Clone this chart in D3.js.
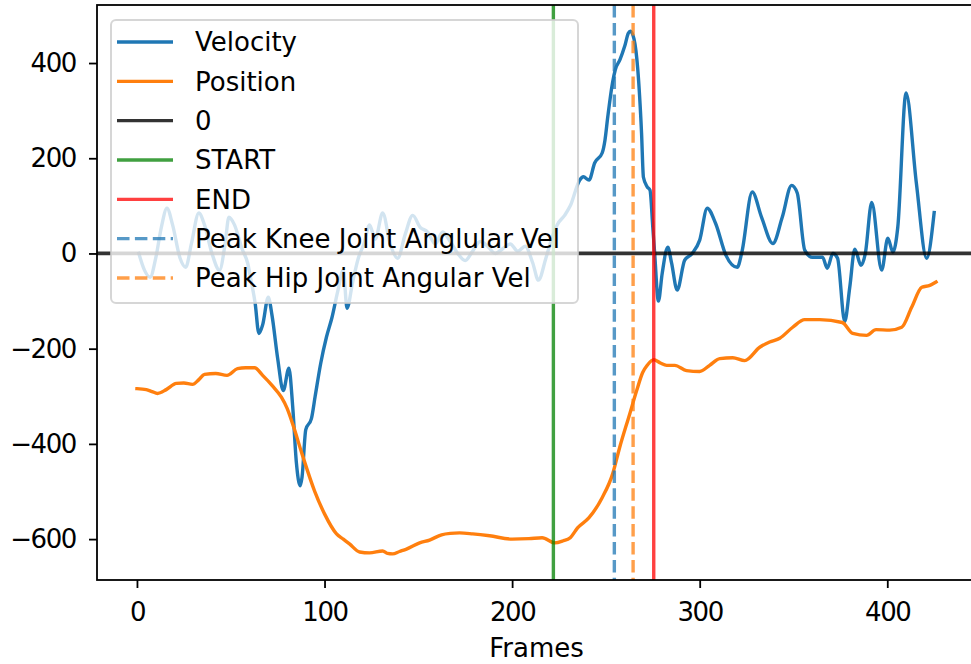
<!DOCTYPE html>
<html>
<head>
<meta charset="utf-8">
<script src="https://cdn.jsdelivr.net/npm/d3@7"></script>
<style>
  html, body { margin: 0; padding: 0; background: #fff; }
  svg { display: block; font-family: "DejaVu Sans", sans-serif; }
</style>
</head>
<body>
<svg id="chart" width="971" height="664"></svg>
<script>
// Angular velocity samples (frame, deg/s)
const velFrames = [1, 4, 7, 10, 13, 16, 19, 23, 26, 29, 33, 36, 40, 44, 47, 49, 52, 56, 59, 61, 63, 65, 67, 70, 72, 75, 78, 81, 83, 85, 87, 88, 90, 93, 95, 98, 101, 104, 107, 110, 112, 115, 118, 121, 124, 127, 131, 135, 139, 143, 147, 151, 155, 159, 163, 167, 171, 175, 179, 183, 187, 191, 195, 199, 203, 207, 211, 214, 218, 221, 224, 228, 231, 236, 238, 241, 244, 248, 249.5, 251, 253.5, 255, 257.5, 260, 262, 263, 265, 267, 269, 270, 272, 273.5, 275, 276, 278, 280, 283, 285, 288, 292, 296, 300, 304, 308.5, 314, 320, 322.5, 328, 333, 339, 344, 349, 352, 356, 360, 365.5, 368, 371, 373.5, 377.3, 380, 382.7, 386, 388.3, 391.7, 397, 400.3, 403, 405.6, 410, 415.5, 421, 425];
const velValues = [0, -35, -50, -10, 55, 95, 60, -10, -29, 20, 85, 60, 0, -35, 20, 76, 60, 10, -20, -60, -104, -168, -150, -92, -130, -220, -288, -241, -320, -440, -488, -470, -370, -347, -300, -230, -176, -134, -80, -35, -115, -60, -10, 20, 60, 30, 85, 20, -10, 40, 80, 55, 45, 20, 45, 25, 0, -15, 5, 25, 15, 0, 10, 20, 5, 15, -20, -56, -10, 30, 60, 80, 100, 154, 161, 154, 190, 211, 238, 287, 358, 386, 407, 435, 463, 467, 450, 386, 253, 160, 140, 133, 55, 0, -100, -42, 13, -20, -77, -14, 0, 28, 95, 63, -4, -29, 3, 129, 76, 21, 76, 143, 127, 7, -8, -8, -31, 0, -10, -143, -71, 9, -25, 0, 107, -35, 32, 3, 55, 337, 148, -10, 86];

// Joint position samples (frame, deg)
const posFrames = [0, 5, 8, 11, 15.6, 21, 25, 29.6, 33, 36, 42, 48, 53.6, 58, 62.7, 67, 72, 77, 80, 83, 88, 94.7, 100, 106.4, 110, 113.3, 118.7, 124, 131, 133.5, 136.3, 140, 143.7, 150.7, 156, 162.4, 167, 172, 179, 188, 200, 209, 216, 222.7, 227, 231, 235, 241, 248, 253.6, 257.3, 262.7, 266.4, 269.6, 272, 275.5, 279, 282.4, 286.7, 293, 300, 305.3, 310.7, 317.6, 324, 332, 337.3, 342.7, 349.6, 356, 364, 376, 381.6, 389, 394, 401.3, 407.7, 413, 418.4, 422.7, 426];
const posValues = [-284, -286, -290, -294, -286, -273, -272, -275, -265, -254, -252, -256, -242, -240, -240, -256, -277, -302, -325, -358, -421, -499, -547, -589, -600, -610, -627, -629, -625, -630, -631, -626, -621, -608, -602, -591, -588, -587, -589, -593, -600, -599, -597, -608, -604, -597, -576, -555, -513, -463, -408, -337, -288, -250, -235, -223, -230, -235, -235, -246, -248, -235, -221, -219, -225, -197, -186, -178, -155, -139, -139, -145, -168, -172, -160, -161, -155, -113, -71, -67, -60];

// Event markers (frame numbers)
const startFrame = 222;
const endFrame = 275.5;
const peakKneeFrame = 254.5;
const peakHipFrame = 264.5;

const xTicks = [0, 100, 200, 300, 400];
const yTicks = [-600, -400, -200, 0, 200, 400];

const legendLabels = ["Velocity", "Position", "0", "START", "END", "Peak Knee Joint Anglular Vel", "Peak Hip Joint Angular Vel"];

const C = {
  blue: "#1f77b4",
  orange: "#ff7f0e",
  black: "#000000",
  green: "#008000",
  red: "#ff0000"
};

const svg = d3.select("#chart");
const W = 971, H = 664;
const plot = { left: 97, right: 976, top: 5, bottom: 580 };
const FONT = 26;

svg.append("rect").attr("width", W).attr("height", H).attr("fill", "#fff");

// Axis limits with a 5% margin around the data
const xExt = [d3.min(velFrames.concat(posFrames)), d3.max(velFrames.concat(posFrames))];
const yExt = [d3.min(velValues.concat(posValues)), d3.max(velValues.concat(posValues))];
const xPad = (xExt[1] - xExt[0]) * 0.05;
const yPad = (yExt[1] - yExt[0]) * 0.05;

const x = d3.scaleLinear().domain([xExt[0] - xPad, xExt[1] + xPad]).range([plot.left, plot.right]);
const y = d3.scaleLinear().domain([yExt[0] - yPad, yExt[1] + yPad]).range([plot.bottom, plot.top]);

const clipId = "plot-clip";
svg.append("clipPath").attr("id", clipId)
  .append("rect")
  .attr("x", plot.left).attr("y", plot.top)
  .attr("width", plot.right - plot.left).attr("height", plot.bottom - plot.top);

const g = svg.append("g").attr("clip-path", `url(#${clipId})`);

const LW = 3.4;
const line = d3.line().curve(d3.curveMonotoneX);

// Velocity trace
g.append("path")
  .attr("d", line(velFrames.map((f, i) => [x(f), y(velValues[i])])))
  .attr("fill", "none").attr("stroke", C.blue).attr("stroke-width", LW)
  .attr("stroke-linejoin", "round").attr("stroke-linecap", "square");

// Position trace
g.append("path")
  .attr("d", line(posFrames.map((f, i) => [x(f), y(posValues[i])])))
  .attr("fill", "none").attr("stroke", C.orange).attr("stroke-width", LW)
  .attr("stroke-linejoin", "round").attr("stroke-linecap", "square");

// Zero reference
g.append("line")
  .attr("x1", plot.left).attr("x2", plot.right)
  .attr("y1", y(0)).attr("y2", y(0))
  .attr("stroke", C.black).attr("stroke-opacity", 0.8).attr("stroke-width", LW + 0.4);

// Event markers
const DASH = "12.5 5.4";
const markers = [
  { f: startFrame, color: C.green, dash: null },
  { f: endFrame, color: C.red, dash: null },
  { f: peakKneeFrame, color: C.blue, dash: DASH },
  { f: peakHipFrame, color: C.orange, dash: DASH }
];
markers.forEach(m => {
  g.append("line")
    .attr("x1", x(m.f)).attr("x2", x(m.f))
    .attr("y1", plot.top).attr("y2", plot.bottom)
    .attr("stroke", m.color).attr("stroke-opacity", 0.75)
    .attr("stroke-width", LW)
    .attr("stroke-dasharray", m.dash);
});

// Axes
const xAxis = d3.axisBottom(x).tickValues(xTicks).tickSize(8).tickPadding(15)
  .tickFormat(d3.format("d"));
const yAxis = d3.axisLeft(y).tickValues(yTicks).tickSize(8).tickPadding(13)
  .tickFormat(d => d < 0 ? "\u2212" + Math.abs(d) : String(d));

const gx = svg.append("g").attr("transform", `translate(0,${plot.bottom})`).call(xAxis);
const gy = svg.append("g").attr("transform", `translate(${plot.left},0)`).call(yAxis);
[gx, gy].forEach(a => {
  a.select(".domain").remove();
  a.selectAll(".tick line").attr("stroke", "#000").attr("stroke-width", 1.8);
  a.selectAll(".tick text").attr("fill", "#000").attr("font-size", FONT)
    .attr("letter-spacing", "-1.4px")
    .attr("font-family", "DejaVu Sans, sans-serif");
});

// Spines
const spine = svg.append("g").attr("stroke", "#000").attr("stroke-width", 1.8).attr("fill", "none");
spine.append("rect")
  .attr("x", plot.left).attr("y", plot.top)
  .attr("width", plot.right - plot.left).attr("height", plot.bottom - plot.top);

// Axis title
svg.append("text")
  .attr("x", (plot.left + plot.right) / 2).attr("y", 657)
  .attr("text-anchor", "middle").attr("font-size", FONT).attr("fill", "#000")
  .text("Frames");

// Legend
const legendItems = [
  { color: C.blue, dash: null, op: 1 },
  { color: C.orange, dash: null, op: 1 },
  { color: C.black, dash: null, op: 0.8 },
  { color: C.green, dash: null, op: 0.75 },
  { color: C.red, dash: null, op: 0.75 },
  { color: C.blue, dash: DASH, op: 0.75 },
  { color: C.orange, dash: DASH, op: 0.75 }
];
const lg = svg.append("g");
lg.append("rect")
  .attr("x", 111).attr("y", 20).attr("width", 467).attr("height", 283)
  .attr("rx", 5).attr("ry", 5)
  .attr("fill", "#fff").attr("fill-opacity", 0.8)
  .attr("stroke", "#cccccc").attr("stroke-opacity", 0.8).attr("stroke-width", 2);

const rowY = d3.scaleLinear().domain([0, legendLabels.length - 1]).range([42, 278]);
legendLabels.forEach((lab, i) => {
  const it = legendItems[i];
  lg.append("line")
    .attr("x1", 117).attr("x2", 173)
    .attr("y1", rowY(i)).attr("y2", rowY(i))
    .attr("stroke", it.color).attr("stroke-opacity", it.op)
    .attr("stroke-width", LW).attr("stroke-dasharray", it.dash);
  lg.append("text")
    .attr("x", 195).attr("y", rowY(i))
    .attr("dy", "0.36em")
    .attr("font-size", FONT).attr("fill", "#000")
    .text(lab);
});
</script>
</body>
</html>
